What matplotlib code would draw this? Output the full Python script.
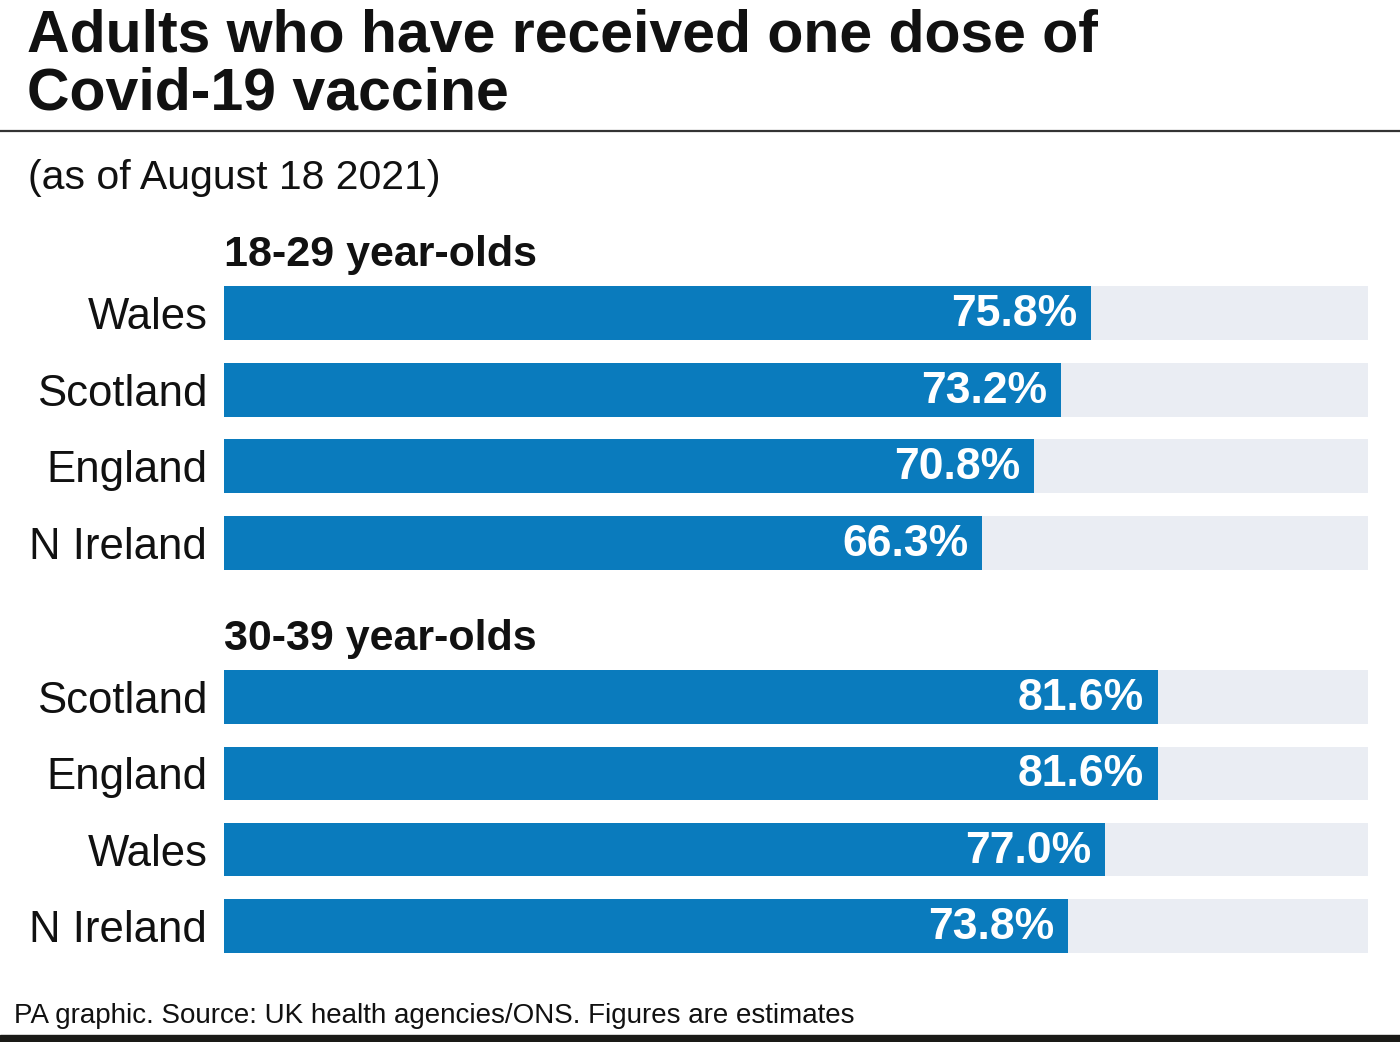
import matplotlib
matplotlib.use("Agg")
import matplotlib.pyplot as plt
from matplotlib.transforms import offset_copy

plt.rcParams['font.family'] = ['Liberation Sans', 'DejaVu Sans']

title_lines = ["Adults who have received one dose of", "Covid-19 vaccine"]
subtitle = "(as of August 18 2021)"
footer = "PA graphic. Source: UK health agencies/ONS. Figures are estimates"

group1_title = "18-29 year-olds"
group1_regions = ["Wales", "Scotland", "England", "N Ireland"]
group1_values = [75.8, 73.2, 70.8, 66.3]

group2_title = "30-39 year-olds"
group2_regions = ["Scotland", "England", "Wales", "N Ireland"]
group2_values = [81.6, 81.6, 77.0, 73.8]

BLUE = "#0a7bbd"
TRACK = "#eaedf3"
W, H = 1400, 1042
fig = plt.figure(figsize=(W / 100, H / 100), dpi=100)
fig.patch.set_facecolor("white")

def fx(px):
    return px / W

def fy(py):
    return 1 - py / H

# Title
fig.text(fx(27), fy(52), title_lines[0], fontsize=42.5, fontweight="bold",
         color="#111111", va="baseline", ha="left")
fig.text(fx(27), fy(110), title_lines[1], fontsize=42.5, fontweight="bold",
         color="#111111", va="baseline", ha="left")
# top rule
fig.add_artist(plt.Line2D([0, 1], [fy(131), fy(131)], color="#333333", lw=1.6,
                          transform=fig.transFigure))
fig.text(fx(28), fy(189), subtitle, fontsize=29.5, color="#111111",
         va="baseline", ha="left")

def draw_group(top_px, bottom_px, regions, values, header):
    ax = fig.add_axes([fx(224), fy(bottom_px), fx(1368) - fx(224),
                       (bottom_px - top_px) / H])
    y = list(range(len(regions)))
    ax.barh(y, [100] * len(regions), height=0.70, color=TRACK, zorder=1)
    ax.barh(y, values, height=0.70, color=BLUE, zorder=2)
    ax.set_xlim(0, 100)
    ax.set_ylim(len(regions) - 0.5, -0.5)
    ax.set_yticks(y)
    ax.set_yticklabels(regions, fontsize=31.5, color="#111111")
    ax.tick_params(axis="y", length=0, pad=12)
    ax.set_xticks([])
    for s in ax.spines.values():
        s.set_visible(False)
    ax.set_facecolor("none")
    for yi, v in zip(y, values):
        ax.annotate(f"{v:.1f}%", xy=(v, yi), xytext=(-10, -1),
                    textcoords="offset points", ha="right", va="center",
                    fontsize=32, color="white", fontweight="bold", zorder=3)
    ax.text(0, -0.5, header,
            transform=offset_copy(ax.transData, fig=fig, y=0, units="points"),
            fontsize=31, fontweight="bold", color="#111111", ha="left", va="bottom")
    return ax

draw_group(274.7, 581.3, group1_regions, group1_values, group1_title)
draw_group(658.8, 964.2, group2_regions, group2_values, group2_title)

fig.text(fx(14), fy(1023), footer, fontsize=20, color="#111111",
         va="baseline", ha="left")
fig.add_artist(plt.Rectangle((0, 0), 1, fy(1035), color="#1a1a17",
                             transform=fig.transFigure))

fig.savefig("out.png", dpi=100)
